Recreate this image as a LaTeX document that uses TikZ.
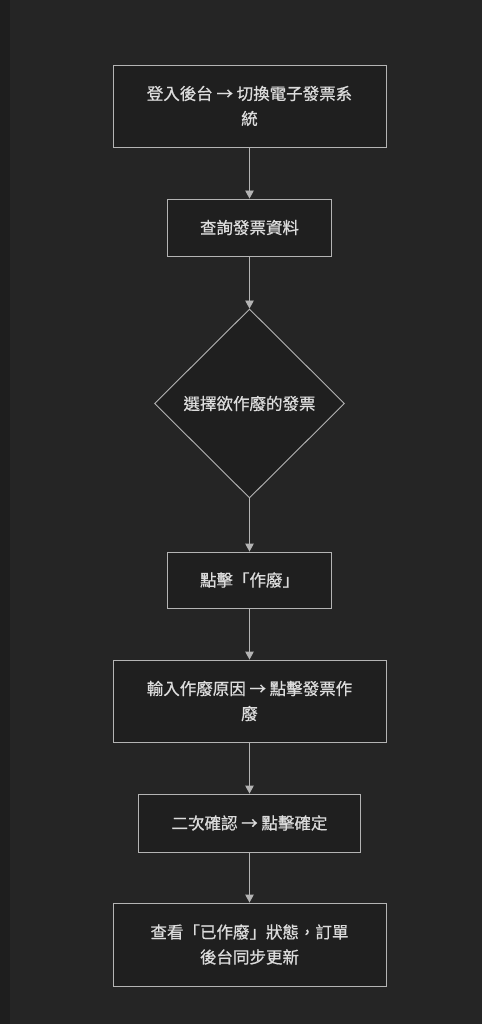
\documentclass[tikz,border=0pt]{standalone}
\usepackage{fontspec}
\newfontfamily\cjk[FakeBold=0.7]{Noto Sans CJK TC}
\usetikzlibrary{shapes.geometric,arrows.meta}

\definecolor{bgmain}{HTML}{252525}
\definecolor{bgside}{HTML}{1E1E1E}
\definecolor{boxfill}{HTML}{1F1F1F}
\definecolor{boxline}{HTML}{B4B4B4}
\definecolor{txt}{HTML}{DCDCDC}

\tikzset{
    stepbox/.style={draw=boxline, fill=boxfill, line width=0.9pt, inner sep=0pt,
        align=center, text=txt, font=\cjk\fontsize{16.5}{25}\selectfont},
    choice/.style={stepbox, diamond, aspect=1},
    flow/.style={draw=boxline, line width=0.9pt, -{Triangle[length=8pt,width=8.5pt]}},
}

\begin{document}
\begin{tikzpicture}[x=1pt, y=-1pt]
    % background and side strip
    \fill[bgmain] (0,0) rectangle (482,1024);
    \fill[bgside] (0,0) rectangle (10,1024);
    \useasboundingbox (0,0) rectangle (482,1024);

    % steps, top to bottom
    \node (login) [stepbox, minimum width=273pt, minimum height=82pt] at (249.5,106)
        {登入後台 → 切換電子發票系\\統};
    \node (query) [stepbox, minimum width=164pt, minimum height=57pt] at (249.5,227.5)
        {查詢發票資料};
    \node (pick) [choice, minimum width=190pt, minimum height=189pt] at (249.5,403.5)
        {選擇欲作廢的發票};
    \node (click) [stepbox, minimum width=164pt, minimum height=56pt] at (249.5,580)
        {點擊「作廢」};
    \node (reason) [stepbox, minimum width=273pt, minimum height=82pt] at (249.5,701)
        {輸入作廢原因 → 點擊發票作\\廢};
    \node (confirm) [stepbox, minimum width=222pt, minimum height=58pt] at (249.5,823)
        {二次確認 → 點擊確定};
    \node (done) [stepbox, minimum width=273pt, minimum height=83pt] at (249.5,944.5)
        {查看「已作廢」狀態，訂單\\後台同步更新};

    % connectors
    \draw[flow] (login) -- (query);
    \draw[flow] (query) -- (pick);
    \draw[flow] (pick) -- (click);
    \draw[flow] (click) -- (reason);
    \draw[flow] (reason) -- (confirm);
    \draw[flow] (confirm) -- (done);
\end{tikzpicture}
\end{document}
